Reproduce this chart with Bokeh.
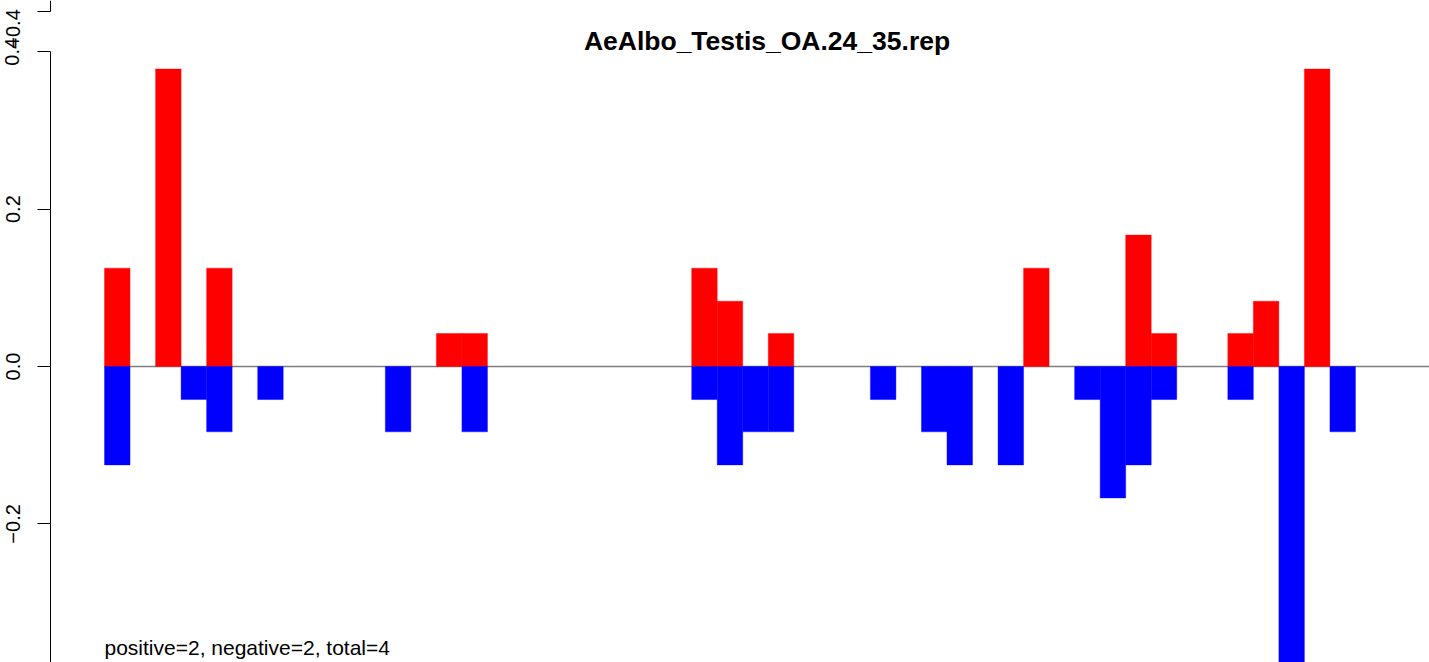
from bokeh.plotting import figure
from bokeh.models import LinearAxis, FixedTicker, Range1d, Label, ColumnDataSource
from bokeh.embed import file_html
from bokeh.resources import INLINE

# ---------------- data ----------------
title_text = "AeAlbo_Testis_OA.24_35.rep"
summary_text = "positive=2, negative=2, total=4"

bins = list(range(49))
positive = [0.125, 0, 0.378, 0, 0.125, 0, 0, 0, 0, 0,
             0, 0, 0, 0.042, 0.042, 0, 0, 0, 0, 0,
             0, 0, 0, 0.125, 0.083, 0, 0.042, 0, 0, 0,
             0, 0, 0, 0, 0, 0, 0.125, 0, 0, 0,
             0.167, 0.042, 0, 0, 0.042, 0.083, 0, 0.378, 0]
negative = [-0.125, 0, 0, -0.042, -0.083, 0, -0.042, 0, 0, 0,
             0, -0.083, 0, 0, -0.083, 0, 0, 0, 0, 0,
             0, 0, 0, -0.042, -0.125, -0.083, -0.083, 0, 0, 0,
             -0.042, 0, -0.083, -0.125, 0, -0.125, 0, 0, -0.042, -0.167,
             -0.125, -0.042, 0, 0, -0.042, 0, -0.378, 0, -0.083]
assert len(positive) == len(bins) == len(negative)

tick_values = [-0.4, -0.2, 0.0, 0.2, 0.4]
tick_labels = ["\u22120.4", "\u22120.2", "0.0", "0.2", "0.4"]
prev_tick_values = [-0.4]
prev_tick_labels = ["\u22120.4"]

# ---------------- layout ----------------
W, H = 1429, 662
X0, X1 = -4.074, 51.90          # visible bin range
Y0, Y1 = -0.3761, 0.4651        # visible value range
AXIS_X = -2.115                 # where the y axis sits (bin units)
PREV_SHIFT = 0.8511             # offset of the panel above (its -0.4 tick)

p = figure(width=W, height=H, output_backend="svg", toolbar_location=None,
           x_axis_type=None, y_axis_type=None,
           x_range=Range1d(X0, X1), y_range=Range1d(Y0, Y1),
           min_border=0, outline_line_color=None,
           background_fill_color="white", border_fill_color="white")
p.extra_y_ranges = {"prev": Range1d(Y0 - PREV_SHIFT, Y1 - PREV_SHIFT)}

pos_src = ColumnDataSource(dict(x=[b + 0.5 for b, v in zip(bins, positive) if v != 0],
                                top=[v for v in positive if v != 0]))
neg_src = ColumnDataSource(dict(x=[b + 0.5 for b, v in zip(bins, negative) if v != 0],
                                top=[v for v in negative if v != 0]))

# zero line
p.segment(x0=[0], y0=[0], x1=[X1], y1=[0], line_color="#7f7f7f", line_width=1.4)

p.vbar(x="x", width=1, bottom=0, top="top", source=pos_src,
       fill_color="#ff0000", line_color="#ff0000", line_width=0.4)
p.vbar(x="x", width=1, bottom=0, top="top", source=neg_src,
       fill_color="#0000ff", line_color="#0000ff", line_width=0.4)


def make_axis(ticks, labels, bounds, range_name="default"):
    ax = LinearAxis(fixed_location=AXIS_X, y_range_name=range_name,
                    ticker=FixedTicker(ticks=ticks, minor_ticks=[]),
                    bounds=bounds,
                    major_label_overrides={v: l for v, l in zip(ticks, labels)},
                    major_label_orientation="vertical",
                    major_tick_out=13, major_tick_in=0,
                    minor_tick_out=0, minor_tick_in=0,
                    major_label_standoff=18,
                    major_label_text_font="Liberation Sans",
                    major_label_text_font_size="20px",
                    major_label_text_color="black",
                    axis_line_color="black", axis_line_width=1,
                    major_tick_line_color="black", major_tick_line_width=1)
    return ax


p.add_layout(make_axis(tick_values, tick_labels, (min(tick_values), max(tick_values))), "left")
p.add_layout(make_axis(prev_tick_values, prev_tick_labels,
                       (min(prev_tick_values), min(prev_tick_values) + 0.1), "prev"), "left")

p.add_layout(Label(x=25.95, y=0.4133, text=title_text, text_align="center",
                   text_baseline="alphabetic", text_font="Liberation Sans",
                   text_font_style="bold", text_font_size="26.5px", text_color="black"))
p.add_layout(Label(x=0, y=-0.3575, text=summary_text, text_align="left",
                   text_baseline="alphabetic", text_font="Liberation Sans",
                   text_font_size="21px", text_color="black"))

open("out.html", "w").write(file_html(p, INLINE))
